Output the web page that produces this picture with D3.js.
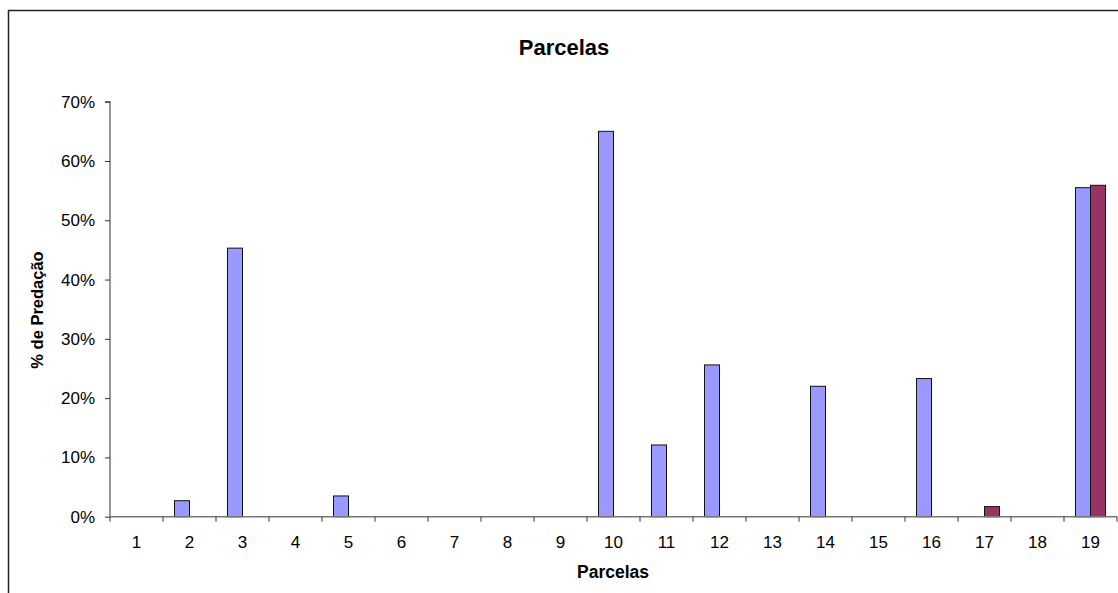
<!DOCTYPE html>
<html>
<head>
<meta charset="utf-8">
<script src="https://cdn.jsdelivr.net/npm/d3@7"></script>
<style>
  html, body { margin: 0; padding: 0; background: #fff; }
  svg { display: block; font-family: Arial, "Liberation Sans", sans-serif; }
</style>
</head>
<body>
<svg id="chart" width="1118" height="593"></svg>
<script>
const categories = ["1","2","3","4","5","6","7","8","9","10","11","12","13","14","15","16","17","18","19"];
const seriesNames = ["Série A", "Série B"];
const seriesA = [0, 0.027, 0.453, 0, 0.035, 0, 0, 0, 0, 0.650, 0.121, 0.256, 0, 0.220, 0, 0.233, 0, 0, 0.555];
const seriesB = [0, 0, 0, 0, 0, 0, 0, 0, 0, 0, 0, 0, 0, 0, 0, 0, 0.017, 0, 0.559];
const yTicks = [0, 0.1, 0.2, 0.3, 0.4, 0.5, 0.6, 0.7];
const colors = ["#9999FF", "#993366"];

const svg = d3.select("#chart");
const m = { left: 110, right: 1117, top: 101.7, bottom: 516.7 };
const FONT = "Arial, 'Liberation Sans', sans-serif";

// outer chart border (cut by window at right & bottom, as in reference)
svg.append("rect")
  .attr("x", 8.5).attr("y", 10.5)
  .attr("width", 1130).attr("height", 600)
  .attr("fill", "none").attr("stroke", "#222").attr("stroke-width", 1.5);

const x = d3.scaleBand().domain(categories).range([m.left, m.right]).padding(0);
const y = d3.scaleLinear().domain([0, 0.7]).range([m.bottom, m.top]);
const bw = 15;

[seriesA, seriesB].forEach((vals, si) => {
  svg.append("g").selectAll("rect")
    .data(vals.map((v, i) => ({ v, c: categories[i] })).filter(d => d.v > 0))
    .join("rect")
    .attr("x", d => x(d.c) + x.bandwidth() / 2 - bw + si * bw)
    .attr("y", d => y(d.v))
    .attr("width", bw)
    .attr("height", d => y(0) - y(d.v))
    .attr("fill", colors[si])
    .attr("stroke", "#111")
    .attr("stroke-width", 1);
});

// Y axis
const yAxis = d3.axisLeft(y).tickValues(yTicks).tickFormat(d3.format(".0%")).tickSize(5).tickPadding(10);
const gy = svg.append("g").attr("transform", `translate(${m.left},0)`).call(yAxis);
gy.select(".domain").attr("stroke", "#777").attr("stroke-width", 1.5).attr("d", `M-5,${m.top}H0V${m.bottom}`);
gy.selectAll(".tick line").attr("stroke", "#333");
gy.selectAll(".tick text").attr("font-size", 17).attr("fill", "#000").attr("font-family", FONT);

// X axis
const xAxis = d3.axisBottom(x).tickSize(0).tickPadding(19);
const gx = svg.append("g").attr("transform", `translate(0,${m.bottom})`).call(xAxis);
gx.select(".domain").attr("stroke", "#777").attr("stroke-width", 1.5).attr("d", `M${m.left},0H${m.right}`);
gx.selectAll(".tick text").attr("font-size", 17).attr("fill", "#000").attr("font-family", FONT);
// boundary ticks
svg.append("g").selectAll("line")
  .data(d3.range(categories.length + 1))
  .join("line")
  .attr("x1", i => m.left + i * x.step()).attr("x2", i => m.left + i * x.step())
  .attr("y1", m.bottom).attr("y2", m.bottom + 5)
  .attr("stroke", "#333").attr("stroke-width", 1);

// Titles
svg.append("text").attr("x", 564).attr("y", 55).attr("text-anchor", "middle")
  .attr("font-size", 22).attr("font-weight", "bold").text("Parcelas");
svg.append("text").attr("x", 613).attr("y", 578).attr("text-anchor", "middle")
  .attr("font-size", 17.5).attr("font-weight", "bold").text("Parcelas");
svg.append("text").attr("transform", "translate(43,310) rotate(-90)").attr("text-anchor", "middle")
  .attr("font-size", 16.5).attr("font-weight", "bold").text("% de Predação");
</script>
</body>
</html>
